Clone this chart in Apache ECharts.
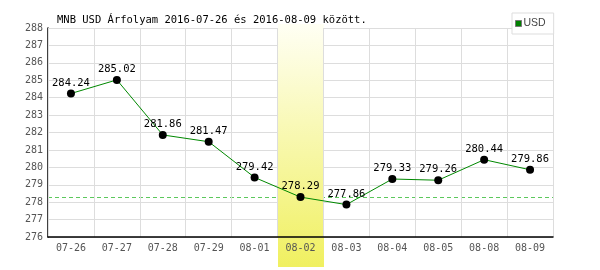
<!DOCTYPE html>
<html><head><meta charset="utf-8">
<script src="https://cdn.jsdelivr.net/npm/echarts@6/dist/echarts.min.js"></script>
<style>html,body{margin:0;padding:0;background:#fff}#c{width:600px;height:270px}</style>
</head><body><div id="c"></div>
<script>
var categories = ['07-26','07-27','07-28','07-29','08-01','08-02','08-03','08-04','08-05','08-08','08-09'];
var usdValues = [284.24,285.02,281.86,281.47,279.42,278.29,277.86,279.33,279.26,280.44,279.86];
var yTicks = {min:276, max:288, interval:1};
var highlightCategory = '08-02';
var referenceValue = 278.29;
var titleText = 'MNB USD Árfolyam 2016-07-26 és 2016-08-09 között.';
var seriesName = 'USD';

var mono = 'DejaVu Sans Mono';
var chart = echarts.init(document.getElementById('c'), null, {renderer:'canvas'});
chart.setOption({
  animation:false,
  backgroundColor:'#fff',
  title:{text:titleText, left:52, top:10, textStyle:{fontFamily:mono, fontSize:10.5, fontWeight:'normal', color:'#000'}},
  legend:{data:[{name:seriesName, icon:'rect', itemStyle:{color:'#008000', borderColor:'#777', borderWidth:1}}],
    left:512, top:13, orient:'vertical', itemWidth:6, itemHeight:6, itemGap:2,
    padding:[5,8,5,3], borderColor:'#ddd', borderWidth:1, backgroundColor:'#fff',
    textStyle:{fontFamily:'Liberation Sans Narrow, Liberation Sans', fontSize:10.5, color:'#444', padding:[0,0,0,-3]}},
  grid:{left:48, right:47, top:28, bottom:33},
  xAxis:{type:'category', data:categories, boundaryGap:true, z:3,
    axisLine:{show:true, lineStyle:{color:'#000', width:1.5}},
    axisTick:{show:false},
    axisLabel:{fontFamily:mono, fontSize:10, color:'#555', margin:6},
    splitLine:{show:true, lineStyle:{color:'#ddd', width:1}}},
  yAxis:{type:'value', min:yTicks.min, max:yTicks.max, interval:yTicks.interval,
    axisLine:{show:true, lineStyle:{color:'#000', width:1.5}},
    axisTick:{show:false},
    axisLabel:{fontFamily:mono, fontSize:10, color:'#555', margin:5},
    splitLine:{show:true, lineStyle:{color:'#ddd', width:1}}},
  series:[{name:seriesName, type:'line', data:usdValues, z:5,
    lineStyle:{color:'#008800', width:1}, itemStyle:{color:'#000'},
    symbol:'circle', symbolSize:8,
    label:{show:true, position:'top', distance:1, fontFamily:mono, fontSize:10.5, color:'#000', formatter:function(p){return p.value.toFixed(2);}}
  }]
});
var xc = chart.convertToPixel({xAxisIndex:0}, highlightCategory);
var idx = categories.indexOf(highlightCategory);
var step = chart.convertToPixel({xAxisIndex:0}, categories[idx+1]) - xc;
var yTop = chart.convertToPixel({yAxisIndex:0}, yTicks.max);
var yRef = Math.round(chart.convertToPixel({yAxisIndex:0}, referenceValue)) + 0.5;
var xLeft = chart.convertToPixel({xAxisIndex:0}, categories[0]) - step/2;
var xRight = chart.convertToPixel({xAxisIndex:0}, categories[categories.length-1]) + step/2;
chart.setOption({graphic:[
  {type:'line', z:0, silent:true, shape:{x1:xLeft, y1:yRef, x2:xRight, y2:yRef},
    style:{stroke:'#5cc85c', lineWidth:1, lineDash:[4,3]}},
  {type:'rect', z:1, silent:true,
  shape:{x:Math.round(xc-step/2), y:yTop-4, width:Math.round(step), height:267-(yTop-4)},
  style:{fill:new echarts.graphic.LinearGradient(0,0,0,1,[{offset:0,color:'#fffff4'},{offset:1,color:'#f0f060'}])}}]});
</script></body></html>
